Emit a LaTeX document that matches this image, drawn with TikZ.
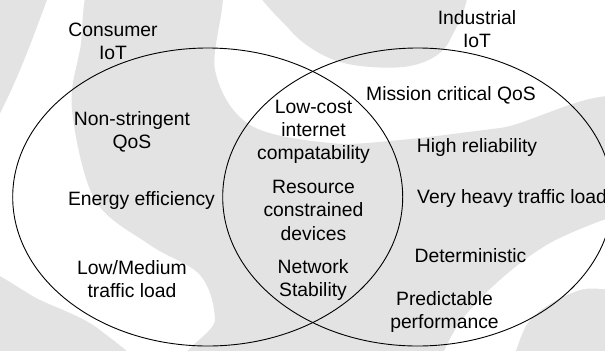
\documentclass[tikz,border=0pt]{standalone}
\usepackage{fontspec}
\setmainfont{Liberation Sans}
\usetikzlibrary{shapes.geometric}
\definecolor{wm}{gray}{0.89}
\newcommand{\mlines}[1]{\begin{tabular}[t]{@{}c@{}}#1\end{tabular}}
\begin{document}
\begin{tikzpicture}[x=1bp,y=-1bp,
  lbl/.style={inner sep=0pt, font=\fontsize{19.4pt}{23.4pt}\selectfont},
  setshape/.style={ellipse, draw=black, line width=0.9bp, inner sep=0pt,
    minimum width=390bp, minimum height=298bp},
  wmark/.style={fill=wm, draw=none}]
\useasboundingbox (0,0) rectangle (605,350);
\clip (0,0) rectangle (605,350);
% faint watermark background
\fill[white] (0,0) rectangle (605,350);
\fill[wmark] (-20,-20) -- (50,-20) -- (47,0) .. controls (30,45) and (15,90) .. (-20,150) -- cycle;
\fill[wmark] plot[smooth cycle, tension=0.55] coordinates {
  (100,-30) (80,50) (72,110) (95,200) (150,245) (200,275) (215,320) (205,380)
  (640,380) (640,110) (500,128) (400,140) (330,143) (250,125) (215,70) (217,-30)};
\fill[wmark] plot[smooth cycle, tension=0.55] coordinates {
  (260,-30) (290,30) (340,62) (410,66) (450,40) (455,-30)};
\fill[wmark] plot[smooth cycle, tension=0.55] coordinates {
  (-30,270) (40,300) (100,330) (140,380) (-30,380)};
\fill[white] plot[smooth cycle, tension=0.55] coordinates {
  (640,215) (560,238) (500,280) (455,330) (440,380) (500,380) (530,320) (580,290) (640,285)};
% sets
\node[setshape] (consumerset) at (207.7,197) {};
\node[setshape] (industrialset) at (417.7,197) {};
% titles
\node[lbl, anchor=base] (consumer) at (113,36) {\mlines{Consumer\\IoT}};
\node[lbl, anchor=base] (industrial) at (477,24) {\mlines{Industrial\\IoT}};
% consumer only
\node[lbl, anchor=base] (nonstringent) at (132,125) {\mlines{Non-stringent\\QoS}};
\node[lbl, anchor=base] (energy) at (141.5,205.7) {Energy efficiency};
\node[lbl, anchor=base] (lowmedium) at (132,274.5) {\mlines{Low/Medium\\traffic load}};
% common
\node[lbl, anchor=base] (lowcost) at (313.5,113.3) {\mlines{Low-cost\\internet\\compatability}};
\node[lbl, anchor=base] (resource) at (313.5,193.5) {\mlines{Resource\\constrained\\devices}};
\node[lbl, anchor=base] (network) at (313,273.5) {\mlines{Network\\Stability}};
% industrial only
\node[lbl, anchor=base] (mission) at (451,100) {Mission critical QoS};
\node[lbl, anchor=base] (reliability) at (477,152) {High reliability};
\node[lbl, anchor=base west] (heavy) at (417,203) {Very heavy traffic load};
\node[lbl, anchor=base] (deterministic) at (470.5,262) {Deterministic};
\node[lbl, anchor=base] (predictable) at (444.5,305) {\mlines{Predictable\\performance}};
\end{tikzpicture}
\end{document}
